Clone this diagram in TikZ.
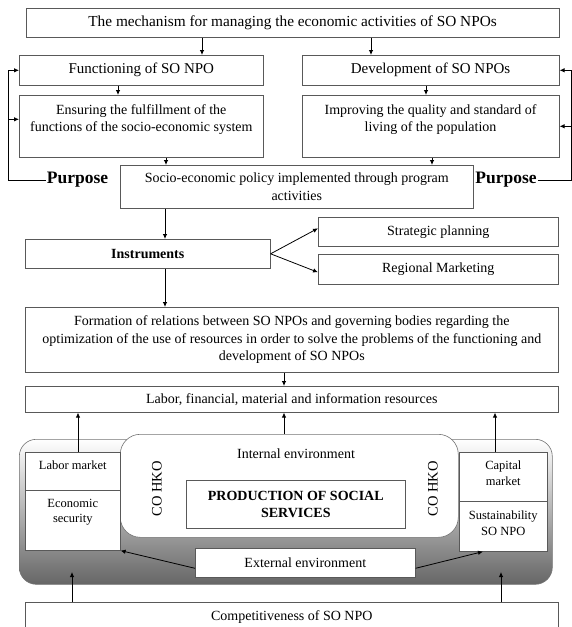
\documentclass[tikz,border=0pt]{standalone}
\usepackage{fontspec}
\setmainfont{Liberation Serif}
\usetikzlibrary{arrows.meta,calc}
\newcommand\bxc[3]{\parbox[c][#2][c]{#1}{\centering #3\par}}
\newcommand\bxtop[4]{\parbox[c][#2][t]{#1}{\centering\vspace*{#3}#4\par}}
\tikzset{
  every node/.style={font=\fontsize{14}{17.5}\selectfont},
  bx/.style={draw=black!65, line width=0.6pt, fill=white, inner sep=0pt, anchor=north west},
  arr/.style={-{Latex[length=5pt,width=4.5pt]}, line width=0.8pt, black},
  ln/.style={line width=0.8pt, black},
  purp/.style={font=\fontsize{17.5}{20}\selectfont\bfseries, inner sep=1pt},
  sm/.style={font=\fontsize{12.5}{15.5}\selectfont},
  env/.style={draw=black!55, line width=0.6pt, inner sep=0pt, anchor=north west}
}
\begin{document}
\begin{tikzpicture}[x=1pt,y=-1pt]
\useasboundingbox (0,0) rectangle (571,627);
% column coordinates
\coordinate (cA) at (202,0);
\coordinate (cB) at (371,0);
\coordinate (cC) at (118,0);
\coordinate (cD) at (426,0);
\coordinate (cE) at (166,0);
\coordinate (cF) at (432,0);
\coordinate (cG) at (165,0);
\coordinate (cH) at (284,0);
\coordinate (cI) at (78,0);
\coordinate (cJ) at (495,0);
\coordinate (lv) at (8,0);
\coordinate (rv) at (571,0);
\coordinate (upK) at (72,572);
\coordinate (upL) at (501,572);
% top part
\node[bx] (top) at (25.5,8) {\bxc{533.5pt}{29pt}{\fontsize{15.3}{18}\selectfont The mechanism for managing the economic activities of SO NPOs}};
\node[bx] (fn) at (19,55) {\bxc{244pt}{30pt}{\fontsize{15}{18}\selectfont Functioning of SO NPO}};
\node[bx] (dev) at (301.5,55) {\bxc{257.5pt}{30pt}{\fontsize{15}{18}\selectfont Development of SO NPOs}};
\node[bx] (ens) at (19,95) {\bxtop{244pt}{62pt}{9pt}{Ensuring the fulfillment of the\\ functions of the socio-economic system}};
\node[bx] (imp) at (301.5,95) {\bxtop{257.5pt}{62pt}{9pt}{Improving the quality and standard of\\ living of the population}};
\node[bx] (soc) at (120,165) {\bxc{353pt}{43pt}{Socio-economic policy implemented through program\\ activities}};
\node[purp] (pl) at (77.5,180) {Purpose};
\node[purp] (pr) at (506,180) {Purpose};
% middle
\node[bx] (ins) at (25,239) {\bxc{245pt}{29pt}{\bfseries Instruments}};
\node[bx] (sp) at (318,217) {\bxc{240pt}{29pt}{Strategic planning}};
\node[bx] (rm) at (318,254) {\bxc{240pt}{30pt}{Regional Marketing}};
\node[bx] (frm) at (25,307) {\bxc{533pt}{65pt}{Formation of relations between SO NPOs and governing bodies regarding the\\ optimization of the use of resources in order to solve the problems of the functioning and\\ development of SO NPOs}};
\node[bx] (lab) at (25,386) {\bxc{533pt}{26pt}{Labor, financial, material and information resources}};
% environment
\node[env, rounded corners=17pt, top color=white, middle color=white, bottom color=black!60, minimum width=533pt, minimum height=145pt] (envr) at (19,439) {};
\node[env, rounded corners=20pt, fill=white, minimum width=338pt, minimum height=103pt] (int) at (120,434) {};
\node (intl) at (296,454) {Internal environment};
\node[bx] (prod) at (186,480) {\bxc{219pt}{48pt}{\bfseries PRODUCTION OF SOCIAL\\ SERVICES}};
\node[rotate=90, font=\fontsize{14.5}{17}\selectfont] (co1) at (157,489) {CO HKO};
\node[rotate=90, font=\fontsize{14.5}{17}\selectfont] (co2) at (433,489) {CO HKO};
\node[bx, sm] (lm) at (25,452) {\bxtop{95pt}{38pt}{8.6pt}{Labor market}};
\node[bx, sm] (es) at (25,490) {\bxtop{95pt}{60pt}{8.6pt}{Economic\\ security}};
\node[bx, sm] (cm) at (459,452) {\bxtop{88pt}{49pt}{8.6pt}{Capital\\ market}};
\node[bx, sm] (su) at (459,501) {\bxtop{88pt}{50pt}{10pt}{Sustainability\\ SO NPO}};
\node[bx] (ext) at (195,548) {\bxc{220pt}{29pt}{External environment}};
\node[bx] (comp) at (25,602) {\bxc{533pt}{30pt}{Competitiveness of SO NPO}};
% connectors top
\draw[arr] (top.south -| cA) -- (fn.north -| cA);
\draw[arr] (top.south -| cB) -- (dev.north -| cB);
\draw[arr] (fn.south -| cC) -- (ens.north -| cC);
\draw[arr] (dev.south -| cD) -- (imp.north -| cD);
\draw[arr] (ens.south -| cE) -- (soc.north -| cE);
\draw[arr] (imp.south -| cF) -- (soc.north -| cF);
% feedback loops
\coordinate (ensin) at ([yshift=7pt]ens.west);
\draw[ln] (pl.west) -- (pl.west -| lv) -- (fn.west -| lv);
\draw[arr] (fn.west -| lv) -- (fn.west);
\draw[arr] (ensin -| lv) -- (ensin);
\draw[ln] (pr.east) -- (pr.east -| rv) -- (dev.east -| rv);
\draw[arr] (dev.east -| rv) -- (dev.east);
\draw[arr] (imp.east -| rv) -- (imp.east);
% middle connectors
\draw[arr] (soc.south -| cG) -- (ins.north -| cG);
\draw[arr] (ins.east) -- ([yshift=3.5pt]sp.west);
\draw[arr] (ins.east) -- ([yshift=-3pt]rm.west);
\draw[arr] (ins.south -| cG) -- (frm.north -| cG);
\draw[arr] (frm.south -| cH) -- (lab.north -| cH);
\draw[arr] (lm.north -| cI) -- (lab.south -| cI);
\draw[arr] (int.north -| cH) -- (lab.south -| cH);
\draw[arr] (cm.north -| cJ) -- (lab.south -| cJ);
% bottom connectors
\draw[arr] (comp.north -| upK) -- (upK);
\draw[arr] (comp.north -| upL) -- (upL);
\draw[arr] ([yshift=-5.5pt]ext.west) -- (es.south east);
\draw[arr] ([yshift=-5.5pt]ext.east) -- ([xshift=24pt]su.south west);
\end{tikzpicture}
\end{document}
